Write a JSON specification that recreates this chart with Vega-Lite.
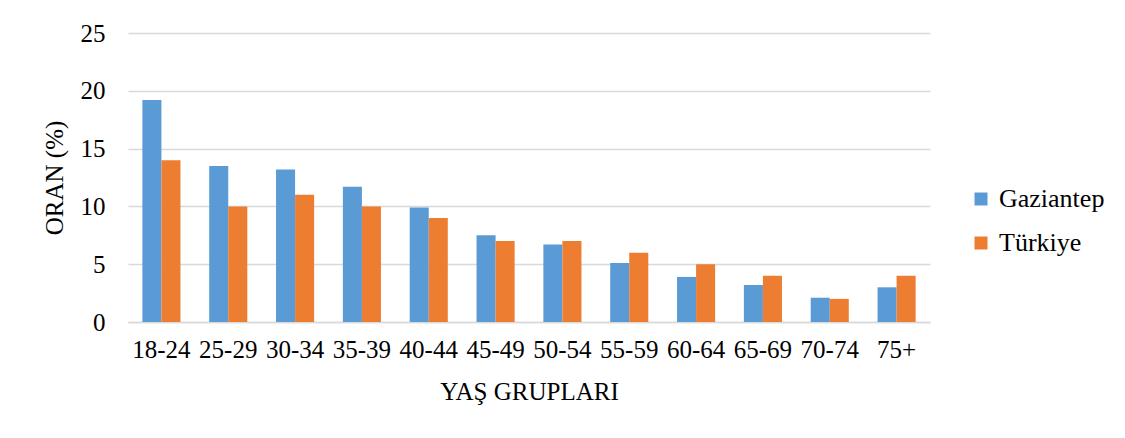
{
  "$schema": "https://vega.github.io/schema/vega-lite/v6.json",
  "autosize": "none",
  "width": 802,
  "height": 289,
  "padding": {"left": 128, "top": 33, "right": 195, "bottom": 116},
  "background": "white",
  "config": {
    "font": "Liberation Serif, Times New Roman, serif",
    "view": {"stroke": null},
    "axis": {"labelFont": "Liberation Serif, Times New Roman, serif", "titleFont": "Liberation Serif, Times New Roman, serif", "labelColor": "#000", "titleColor": "#000", "labelFontSize": 25, "titleFontSize": 25, "titleFontWeight": "normal"},
    "legend": {"labelFont": "Liberation Serif, Times New Roman, serif", "labelFontSize": 26, "labelColor": "#000"}
  },
  "data": {
    "values": [
      {"grup": "18-24", "seri": "Gaziantep", "oran": 19.2},
      {"grup": "18-24", "seri": "Türkiye", "oran": 14},
      {"grup": "25-29", "seri": "Gaziantep", "oran": 13.5},
      {"grup": "25-29", "seri": "Türkiye", "oran": 10},
      {"grup": "30-34", "seri": "Gaziantep", "oran": 13.2},
      {"grup": "30-34", "seri": "Türkiye", "oran": 11},
      {"grup": "35-39", "seri": "Gaziantep", "oran": 11.7},
      {"grup": "35-39", "seri": "Türkiye", "oran": 10},
      {"grup": "40-44", "seri": "Gaziantep", "oran": 9.9},
      {"grup": "40-44", "seri": "Türkiye", "oran": 9},
      {"grup": "45-49", "seri": "Gaziantep", "oran": 7.5},
      {"grup": "45-49", "seri": "Türkiye", "oran": 7},
      {"grup": "50-54", "seri": "Gaziantep", "oran": 6.7},
      {"grup": "50-54", "seri": "Türkiye", "oran": 7},
      {"grup": "55-59", "seri": "Gaziantep", "oran": 5.1},
      {"grup": "55-59", "seri": "Türkiye", "oran": 6},
      {"grup": "60-64", "seri": "Gaziantep", "oran": 3.9},
      {"grup": "60-64", "seri": "Türkiye", "oran": 5},
      {"grup": "65-69", "seri": "Gaziantep", "oran": 3.2},
      {"grup": "65-69", "seri": "Türkiye", "oran": 4},
      {"grup": "70-74", "seri": "Gaziantep", "oran": 2.1},
      {"grup": "70-74", "seri": "Türkiye", "oran": 2},
      {"grup": "75+", "seri": "Gaziantep", "oran": 3.0},
      {"grup": "75+", "seri": "Türkiye", "oran": 4}
    ]
  },
  "mark": {"type": "bar"},
  "encoding": {
    "x": {
      "field": "grup", "type": "nominal", "sort": null,
      "scale": {"paddingInner": 0.43, "paddingOuter": 0.215},
      "axis": {"title": "YAŞ GRUPLARI", "labelAngle": 0, "ticks": false, "labelPadding": 15, "titlePadding": 17, "domainColor": "#D9D9D9", "domainWidth": 1.5, "grid": false}
    },
    "xOffset": {"field": "seri", "type": "nominal", "scale": {"paddingInner": 0, "paddingOuter": 0}},
    "y": {
      "field": "oran", "type": "quantitative",
      "scale": {"domain": [0, 25]},
      "axis": {"title": "ORAN (%)", "values": [0, 5, 10, 15, 20, 25], "ticks": false, "domain": false, "gridColor": "#D9D9D9", "gridWidth": 1.5, "labelPadding": 23, "titlePadding": 13}
    },
    "color": {
      "field": "seri", "type": "nominal",
      "scale": {"domain": ["Gaziantep", "Türkiye"], "range": ["#5B9BD5", "#ED7D31"]},
      "legend": {"title": null, "orient": "none", "legendX": 840, "legendY": 153, "symbolType": "square", "symbolSize": 169, "symbolStrokeWidth": 0, "rowPadding": 18, "labelOffset": 5}
    }
  }
}
